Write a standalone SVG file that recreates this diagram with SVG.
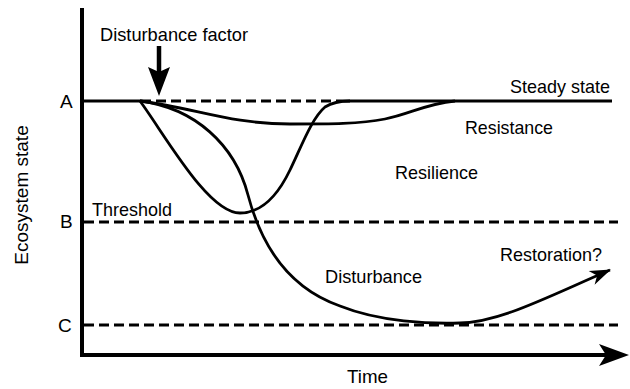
<svg xmlns="http://www.w3.org/2000/svg" width="630" height="389" viewBox="0 0 630 389">
<style>
  text { font-family: "Liberation Sans", Arial, sans-serif; font-size: 19px; fill: #000; }
  .axis { stroke: #000; stroke-width: 4; fill: none; }
  .dash { stroke: #000; stroke-width: 3; stroke-dasharray: 10 5; fill: none; }
  .solid { stroke: #000; stroke-width: 3; fill: none; }
  .curve { stroke: #000; stroke-width: 2.8; fill: none; }
</style>
<defs>
  <marker id="arr" viewBox="-22 -8 24 16" refX="0" refY="0" markerWidth="24" markerHeight="16" markerUnits="userSpaceOnUse" orient="auto">
    <path d="M1,0 L-20,-7.5 L-14,0 L-20,7.5 Z" fill="#000"/>
  </marker>
</defs>
<rect width="630" height="389" fill="#fff"/>
<g id="axes">
  <line class="axis" x1="82" y1="8" x2="82" y2="357"/>
  <line class="axis" x1="80" y1="355" x2="610" y2="355"/>
  <path d="M629,355 L599,344 L606,355 L599,366 Z" fill="#000"/>
  <text x="28" y="195" font-size="21" text-anchor="middle" transform="rotate(-90 28 195)">Ecosystem state</text>
  <text x="347" y="383" font-size="21" textLength="41" lengthAdjust="spacingAndGlyphs">Time</text>
</g>
<g id="levels">
  <line class="solid" x1="82" y1="101" x2="141" y2="101"/>
  <line class="dash" x1="141" y1="101" x2="343" y2="101"/>
  <line class="solid" x1="343" y1="101" x2="612" y2="101"/>
  <line class="dash" x1="84" y1="222" x2="618" y2="222"/>
  <line class="dash" x1="84" y1="325" x2="618" y2="325"/>
  <text x="60" y="108">A</text>
  <text x="60" y="228">B</text>
  <text x="58" y="332">C</text>
  <text x="92" y="216" textLength="80" lengthAdjust="spacingAndGlyphs">Threshold</text>
  <text x="510" y="93" textLength="100" lengthAdjust="spacingAndGlyphs">Steady state</text>
</g>
<g id="disturbance-factor">
  <text x="100" y="41" textLength="148" lengthAdjust="spacingAndGlyphs">Disturbance factor</text>
  <line x1="159" y1="46" x2="159" y2="72" stroke="#000" stroke-width="4.5"/>
  <path d="M159,96 L148,67 L159,72 L170,67 Z" fill="#000"/>
</g>
<g id="connectors">
  <path id="resistance-curve" class="curve" d="M140,101 C195,108 230,124 290,124 C330,124 360,124 385,119 C410,114 425,104 455,101"/>
  <path id="resilience-curve" class="curve" d="M140,101 C165,135 208,213 240,213 C262,213 278,195 290,170 C302,145 312,118 325,107 C333,102 340,101 350,101"/>
  <path id="disturbance-curve" class="curve" d="M140,101 C195,108 235,145 248,195 C258,233 280,285 340,306 C380,322 430,324 460,323 C500,322 545,298 610,270" marker-end="url(#arr)"/>
</g>
<g id="labels">
  <text x="465" y="134" textLength="88" lengthAdjust="spacingAndGlyphs">Resistance</text>
  <text x="395" y="179" textLength="83" lengthAdjust="spacingAndGlyphs">Resilience</text>
  <text x="500" y="261" textLength="102" lengthAdjust="spacingAndGlyphs">Restoration?</text>
  <text x="325" y="283" textLength="97" lengthAdjust="spacingAndGlyphs">Disturbance</text>
</g>
</svg>
